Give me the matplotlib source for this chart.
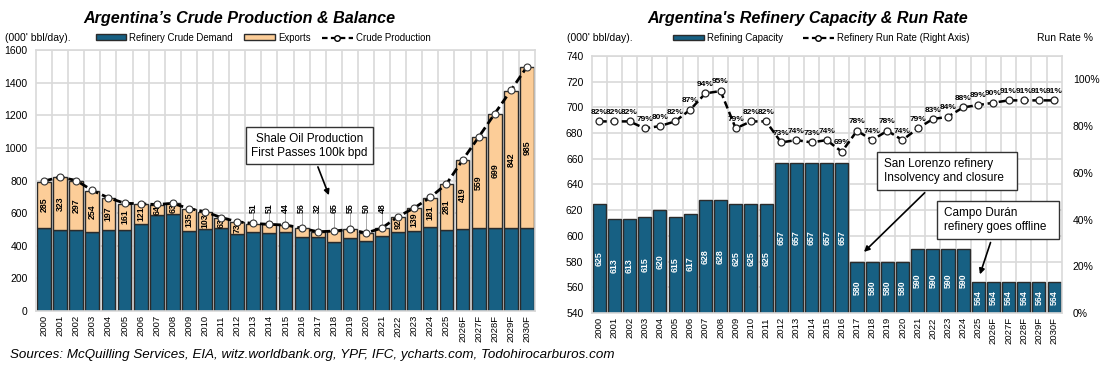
import matplotlib
matplotlib.use("Agg")
import matplotlib.pyplot as plt
from matplotlib import font_manager
from matplotlib.patches import Patch
from matplotlib.lines import Line2D

names = {f.name for f in font_manager.fontManager.ttflist}
BASE = "Liberation Sans" if "Liberation Sans" in names else "DejaVu Sans"
plt.rcParams["font.family"] = [BASE, "DejaVu Sans"]

years = ["2000", "2001", "2002", "2003", "2004", "2005", "2006", "2007", "2008", "2009",
         "2010", "2011", "2012", "2013", "2014", "2015", "2016", "2017", "2018", "2019",
         "2020", "2021", "2022", "2023", "2024", "2025", "2026F", "2027F", "2028F", "2029F", "2030F"]

refinery_demand = [507, 497, 497, 483, 497, 497, 536, 587, 597, 491,
                   505, 510, 474, 485, 480, 483, 452, 454, 425, 446,
                   429, 460, 487, 491, 513, 497, 505, 507, 509, 509, 509]
exports = [285, 323, 297, 254, 197, 161, 121, 64, 63, 135,
           103, 63, 73, 51, 51, 44, 56, 32, 65, 55,
           50, 48, 92, 139, 181, 281, 419, 559, 699, 842, 985]
crude_production = [797, 821, 800, 739, 694, 661, 657, 653, 660, 628,
                    609, 573, 547, 537, 531, 527, 508, 486, 490, 501,
                    478, 509, 579, 632, 697, 779, 925, 1066, 1210, 1352, 1497]

refining_capacity = [625, 613, 613, 615, 620, 615, 617, 628, 628, 625,
                     625, 625, 657, 657, 657, 657, 657, 580, 580, 580,
                     580, 590, 590, 590, 590, 564, 564, 564, 564, 564, 564]
run_rate = [82, 82, 82, 79, 80, 82, 87, 94, 95, 79,
            82, 82, 73, 74, 73, 74, 69, 78, 74, 78,
            74, 79, 83, 84, 88, 89, 90, 91, 91, 91, 91]

BLUE = "#176083"
ORANGE = "#FCCD98"
EDGE = "#2b2b2b"
GRID = "#d9d9d9"

fig = plt.figure(figsize=(11.01, 3.73), dpi=100)

# ---------------- Left chart ----------------
ax1 = fig.add_axes([0.0327, 0.1662, 0.4532, 0.6997])
x = list(range(len(years)))
ax1.bar(x, refinery_demand, width=0.86, color=BLUE, edgecolor=EDGE, linewidth=1.0, zorder=2)
ax1.bar(x, exports, bottom=refinery_demand, width=0.86, color=ORANGE, edgecolor=EDGE,
        linewidth=1.0, zorder=2)
ax1.plot(x, crude_production, color="black", lw=2, ls=(0, (3, 1.5)), marker="o", ms=5,
         mfc="white", mec="#333333", mew=0.8, zorder=4)
ax1.set_xlim(-0.5, len(years) - 0.5)
ax1.set_ylim(0, 1600)
ax1.set_yticks(range(0, 1601, 200))
ax1.set_xticks(x)
ax1.set_xticklabels(years, rotation=90, fontsize=6.8)
ax1.tick_params(axis="y", labelsize=7.5, length=0, pad=6)
ax1.tick_params(axis="x", length=0, pad=3)
ax1.set_xticks([i + 0.5 for i in x[:-1]], minor=True)
ax1.tick_params(which="minor", length=0)
ax1.grid(True, which="minor", axis="x", color=GRID, lw=1.2, zorder=0)
ax1.grid(True, which="major", axis="y", color=GRID, lw=1.2, zorder=0)
ax1.set_axisbelow(True)
for s in ax1.spines.values():
    s.set_color(GRID)
    s.set_linewidth(1.2)

outside = set(range(13, 22))
for i, (d, e) in enumerate(zip(refinery_demand, exports)):
    if i in outside:
        ax1.text(i, 603, str(e), rotation=90, ha="center", va="bottom", fontsize=6.3,
                 fontweight="bold", zorder=5)
        ax1.plot([i, i], [d + e + 15, 598], color="#aaaaaa", lw=0.7, zorder=3)
    else:
        ax1.text(i, d + e / 2, str(e), rotation=90, ha="center", va="center", fontsize=6.3,
                 fontweight="bold", zorder=3)

ax1.annotate("Shale Oil Production\nFirst Passes 100k bpd", xy=(17.76, 694), xytext=(16.5, 1014),
             ha="center", va="center", fontsize=8.5,
             bbox=dict(boxstyle="square,pad=0.45", fc="white", ec="#333333", lw=1.0),
             arrowprops=dict(arrowstyle="-|>", color="black", lw=1.2, mutation_scale=8),
             zorder=6)

ax1.legend(handles=[Patch(fc=BLUE, ec=EDGE, lw=1.0, label="Refinery Crude Demand"),
                    Patch(fc=ORANGE, ec=EDGE, lw=1.0, label="Exports"),
                    Line2D([0], [0], color="black", lw=1.6, ls=(0, (2.5, 1.5)), marker="o", ms=4,
                           mfc="white", mec="black", label="Crude Production")],
           loc="center", bbox_to_anchor=(0.455, 1.047), ncol=3, frameon=False, fontsize=6.9,
           handlelength=3.2, handleheight=0.55, columnspacing=1.2, handletextpad=0.3,
           borderaxespad=0)

fig.text(5 / 1101, 1 - 38 / 373, "(000' bbl/day).", fontsize=7.5, va="center", ha="left")
fig.text(239 / 1101, 1 - 19 / 373, "Argentina\u2019s Crude Production & Balance", fontsize=11.6,
         style="italic", fontweight="bold", ha="center", va="center")

# ---------------- Right chart ----------------
ax2 = fig.add_axes([0.5374, 0.1609, 0.4269, 0.689])
ax2.bar(x, refining_capacity, width=0.86, color=BLUE, edgecolor=EDGE, linewidth=1.0, zorder=2)
ax2.set_xlim(-0.5, len(years) - 0.5)
ax2.set_ylim(540, 740)
ax2.set_yticks(range(540, 741, 20))
ax2.set_xticks(x)
ax2.set_xticklabels(years, rotation=90, fontsize=6.8)
ax2.tick_params(axis="y", labelsize=7.5, length=0, pad=6)
ax2.tick_params(axis="x", length=0, pad=3)
ax2.set_xticks([i + 0.5 for i in x[:-1]], minor=True)
ax2.tick_params(which="minor", length=0)
ax2.grid(True, which="minor", axis="x", color=GRID, lw=1.2, zorder=0)
ax2.grid(True, which="major", axis="y", color=GRID, lw=1.2, zorder=0)
ax2.set_axisbelow(True)
for s in ax2.spines.values():
    s.set_color(GRID)
    s.set_linewidth(1.2)
for i, c in enumerate(refining_capacity):
    ax2.text(i, (540 + c) / 2, str(c), rotation=90, ha="center", va="center", fontsize=6.3,
             fontweight="bold", color="white", zorder=3)

ax3 = ax2.twinx()
rr = [v / 100 for v in run_rate]
ax3.plot(x, rr, color="black", lw=1.8, ls=(0, (3, 1.5)), marker="o", ms=5,
         mfc="white", mec="#222222", mew=0.9, zorder=4)
ax3.set_ylim(0, 1.10)
ax3.set_yticks([0, 0.2, 0.4, 0.6, 0.8, 1.0])
ax3.set_yticklabels(["0%", "20%", "40%", "60%", "80%", "100%"])
ax3.tick_params(axis="y", labelsize=7.5, length=0, pad=8)
for s in ax3.spines.values():
    s.set_visible(False)
for i, v in enumerate(run_rate):
    ax3.annotate(f"{v}%", (i, v / 100), xytext=(0, 4), textcoords="offset points",
                 ha="center", va="bottom", fontsize=6, fontweight="bold")

ax3.annotate("San Lorenzo refinery  \nInsolvency and closure  ", xy=(17.33, 0.253),
             xytext=(22.94, 0.608), ha="center", va="center", fontsize=8.5,
             multialignment="left",
             bbox=dict(boxstyle="square,pad=0.55", fc="white", ec="#333333", lw=1.0),
             arrowprops=dict(arrowstyle="-|>", color="black", lw=1.2, mutation_scale=8),
             zorder=6)
ax3.annotate("Campo Dur\u00e1n\nrefinery goes offline  ", xy=(25.05, 0.154),
             xytext=(26.3, 0.398), ha="center", va="center", fontsize=8.5,
             multialignment="left",
             bbox=dict(boxstyle="square,pad=0.55", fc="white", ec="#333333", lw=1.0),
             arrowprops=dict(arrowstyle="-|>", color="black", lw=1.2, mutation_scale=8),
             zorder=6)

ax2.legend(handles=[Patch(fc=BLUE, ec=EDGE, lw=1.0, label="Refining Capacity"),
                    Line2D([0], [0], color="black", lw=1.6, ls=(0, (2.5, 1.5)), marker="o", ms=4,
                           mfc="white", mec="black", label="Refinery Run Rate (Right Axis)")],
           loc="center", bbox_to_anchor=(0.488, 1.07), ncol=2, frameon=False, fontsize=7,
           handlelength=3.2, handleheight=0.55, columnspacing=2.0, handletextpad=0.3,
           borderaxespad=0)

fig.text(567 / 1101, 1 - 38 / 373, "(000' bbl/day).", fontsize=7.5, va="center", ha="left")
fig.text(1037 / 1101, 1 - 38 / 373, "Run Rate %", fontsize=7.5, va="center", ha="left")
fig.text(808 / 1101, 1 - 19 / 373, "Argentina's Refinery Capacity & Run Rate", fontsize=11.6,
         style="italic", fontweight="bold", ha="center", va="center")

fig.text(10 / 1101, 1 - 355 / 373,
         "Sources: McQuilling Services, EIA, witz.worldbank.org, YPF, IFC, ycharts.com, Todohirocarburos.com",
         fontsize=9.6, style="italic", ha="left", va="center")

fig.savefig("out.png", dpi=100)
